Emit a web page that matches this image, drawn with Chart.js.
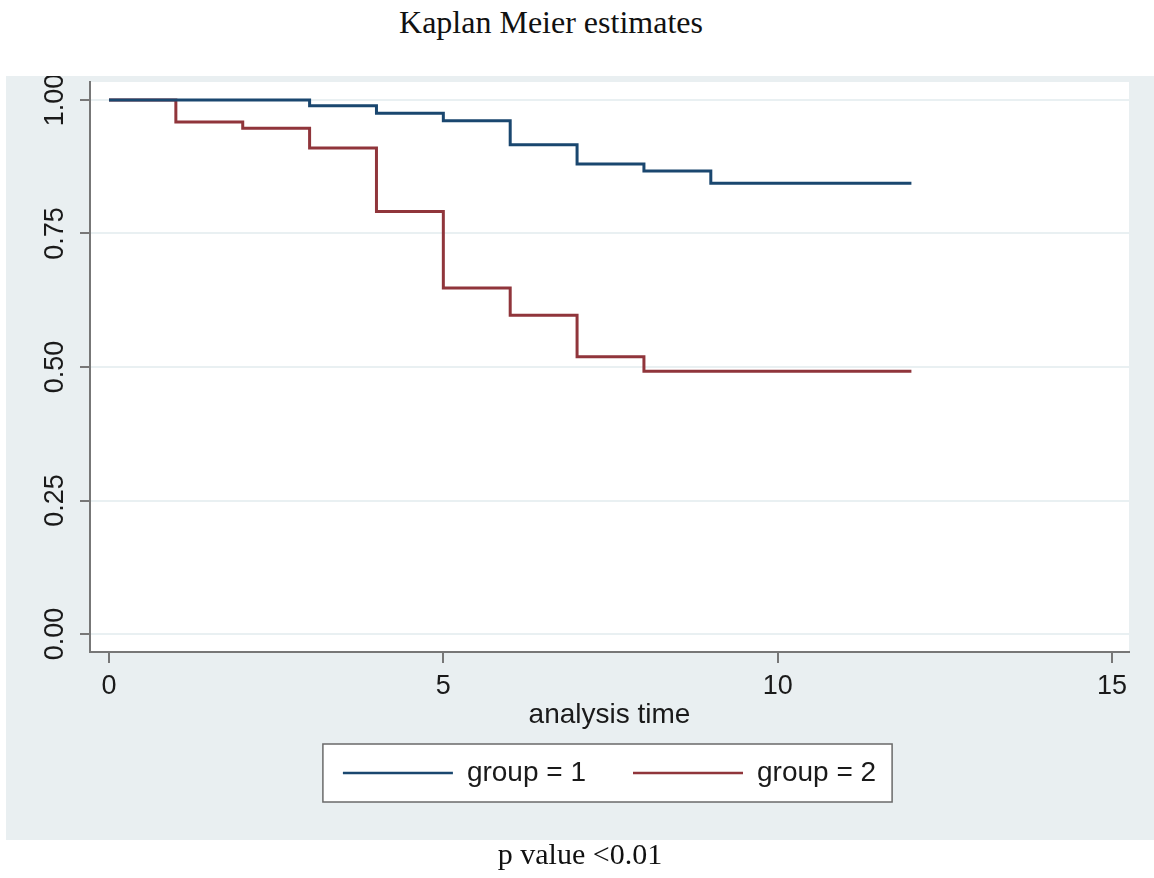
<!DOCTYPE html>
<html>
<head>
<meta charset="utf-8">
<script src="https://cdn.jsdelivr.net/npm/chart.js@4.4.1/dist/chart.umd.min.js"></script>
<style>
  body { margin: 0; background: #ffffff; width: 1154px; height: 878px; position: relative; overflow: hidden; }
  .caption { position: absolute; font-family: "Liberation Serif", "Times New Roman", serif; color: #111; text-align: center; line-height: 1; }
  #title { left: 0; top: 6px; width: 1102px; font-size: 32px; }
  #note { left: 6px; top: 839px; width: 1148px; font-size: 30px; }
  #km { position: absolute; left: 6px; top: 76px; background: #e9eff1; }
</style>
</head>
<body>
<div id="title" class="caption">Kaplan Meier estimates</div>
<canvas id="km" width="1148" height="764"></canvas>
<div id="note" class="caption">p value &lt;0.01</div>

<script>
// survival estimates, one value per analysis time
const times = [0, 1, 2, 3, 4, 5, 6, 7, 8, 9, 10, 11, 12];
const group1 = [1, 1, 1, 0.989, 0.975, 0.961, 0.916, 0.880, 0.867, 0.844, 0.844, 0.844, 0.844];
const group2 = [1, 0.959, 0.947, 0.910, 0.791, 0.648, 0.597, 0.519, 0.492, 0.492, 0.492, 0.492, 0.492];
const seriesLabels = ["group = 1", "group = 2"];
const xTicks = [0, 5, 10, 15];
const yTicks = [0, 0.25, 0.5, 0.75, 1];
const yTickLabels = ["0.00", "0.25", "0.50", "0.75", "1.00"];

const toPoints = (vals) => times.map((t, i) => ({ x: t, y: vals[i] }));

// white plot region + framed legend, like the Stata s2color scheme
const backdrop = {
  id: "backdrop",
  beforeDraw(chart) {
    const { ctx, chartArea } = chart;
    ctx.save();
    ctx.fillStyle = "#ffffff";
    ctx.fillRect(chartArea.left, chartArea.top, chartArea.right - chartArea.left, chartArea.bottom - chartArea.top);

    const boxes = chart.legend && chart.legend.legendHitBoxes;
    if (boxes && boxes.length) {
      const first = boxes[0];
      const last = boxes[boxes.length - 1];
      const left = first.left - 20;
      const right = last.left + last.width + 16;
      const mid = first.top + first.height / 2;
      ctx.fillStyle = "#ffffff";
      ctx.fillRect(left, mid - 29, right - left, 58);
      ctx.strokeStyle = "#6a6a6a";
      ctx.lineWidth = 1.5;
      ctx.strokeRect(left, mid - 29, right - left, 58);
    }
    ctx.restore();
  }
};

new Chart(document.getElementById("km"), {
  type: "line",
  data: {
    datasets: [
      {
        label: seriesLabels[0],
        data: toPoints(group1),
        borderColor: "#1a476f",
        backgroundColor: "#1a476f",
        borderWidth: 3,
        pointRadius: 0,
        stepped: "before",
        fill: false
      },
      {
        label: seriesLabels[1],
        data: toPoints(group2),
        borderColor: "#90353b",
        backgroundColor: "#90353b",
        borderWidth: 3,
        pointRadius: 0,
        stepped: "before",
        fill: false
      }
    ]
  },
  options: {
    responsive: false,
    animation: false,
    devicePixelRatio: 1,
    layout: { padding: { top: 6, right: 25, bottom: 43, left: 0 } },
    font: { family: "'Liberation Sans', Arial, sans-serif" },
    plugins: {
      title: { display: false },
      tooltip: { enabled: false },
      legend: {
        position: "bottom",
        fullSize: false,
        labels: {
          usePointStyle: true,
          pointStyle: "line",
          pointStyleWidth: 110,
          padding: 47,
          color: "#1a1a1a",
          font: { size: 28 },
          generateLabels: (chart) =>
            Chart.defaults.plugins.legend.labels.generateLabels(chart).map((item) => ({ ...item, lineWidth: 2.5 }))
        }
      }
    },
    scales: {
      x: {
        type: "linear",
        min: -0.284,
        max: 15.254,
        afterBuildTicks: (scale) => { scale.ticks = xTicks.map((v) => ({ value: v })); },
        afterFit: (scale) => { scale.height = 60; scale.paddingLeft = 0; scale.paddingRight = 0; },
        grid: { drawOnChartArea: false, tickLength: 11, tickColor: "#777777", lineWidth: 2 },
        border: { display: true, color: "#777777", width: 2 },
        ticks: { padding: 7, color: "#1a1a1a", font: { size: 27 }, maxRotation: 0 },
        title: {
          display: true,
          text: "analysis time",
          color: "#1a1a1a",
          font: { size: 28 },
          padding: { top: 0, bottom: -20 }
        }
      },
      y: {
        min: -0.0337,
        max: 1.0337,
        afterBuildTicks: (scale) => { scale.ticks = yTicks.map((v) => ({ value: v })); },
        afterFit: (scale) => { scale.width = 84; scale.paddingTop = 0; scale.paddingBottom = 0; },
        grid: { color: "#e9f0f2", lineWidth: 2, tickLength: 10, tickColor: "#777777" },
        border: { display: true, color: "#777777", width: 2 },
        ticks: {
          minRotation: 90,
          maxRotation: 90,
          crossAlign: "center",
          padding: -2,
          color: "#1a1a1a",
          font: { size: 27 },
          callback: (value) => yTickLabels[yTicks.indexOf(value)]
        }
      }
    }
  },
  plugins: [backdrop]
});
</script>
</body>
</html>
